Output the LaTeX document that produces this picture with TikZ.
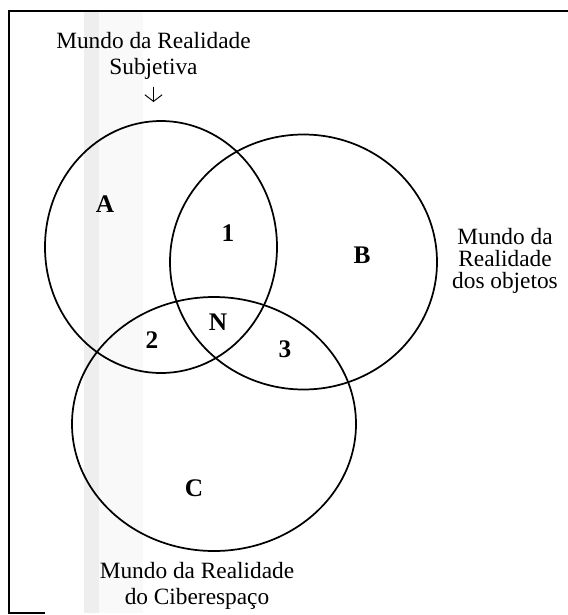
\documentclass[tikz,border=0pt]{standalone}
\usepackage{fontspec}
\setmainfont{Liberation Serif}
\usetikzlibrary{positioning}
\usetikzlibrary{arrows.meta}

\tikzset{
  world/.style={line width=1.3pt, black},
  region/.style={font=\fontsize{19}{21}\selectfont\bfseries, inner sep=0pt},
  caption/.style={font=\fontsize{17.5}{19.5}\selectfont, align=center, inner sep=0pt}
}

\begin{document}
\begin{tikzpicture}[x=0.75pt, y=-0.75pt]

 \useasboundingbox (0,0) rectangle (568,615);

 % scanner stripe
 \fill [gray!5] (99,11) rectangle (143,613);
 \fill [gray!13] (84,11) rectangle (99,613);

 % page frame (cut on the right)
 \draw [line width=1.2pt] (568,11) -- (9,11) -- (9,613) -- (45,613);

 % the three worlds
 \draw [world] (161,247) ellipse [x radius=116, y radius=126];
 \draw [world] (303.5,262) ellipse [x radius=133.5, y radius=127.5];
 \draw [world] (214,424) ellipse [x radius=142, y radius=127];

 % captions of the worlds
 \node [caption] (subj) at (153.5,56) {Mundo da Realidade\\Subjetiva};
 \coordinate (subjtip) at (153.5,102);
 \draw [line width=0.7pt, shorten <=5pt, -{Straight Barb[length=5pt, width=13pt]}] (subj) -- (subjtip);
 \node [caption, font=\fontsize{17.5}{16.6}\selectfont] (obj) at (505,261) {Mundo da\\Realidade\\dos objetos};
 \node [caption] (cyber) at (197,586) {Mundo da Realidade\\do Ciberespaço};

 % regions
 \node [region] (A) at (105,204) {A};
 \node [region] (B) at (362,255) {B};
 \node [region] (C) at (194,488) {C};
 \node [region] (one) at (228,233) {1};
 \node [region] (two) at (152,340) {2};
 \node [region] (three) at (285,349) {3};
 \node [region] (N) at (218,322) {N};

\end{tikzpicture}
\end{document}
